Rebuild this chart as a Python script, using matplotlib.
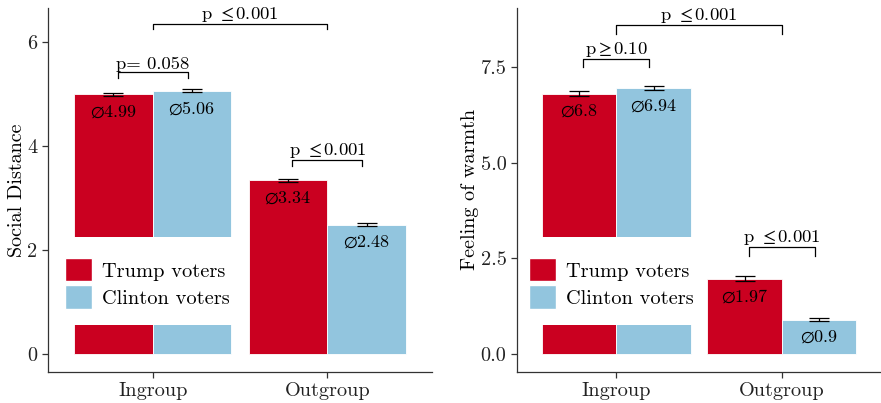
import matplotlib
matplotlib.use("Agg")
import matplotlib.pyplot as plt
from matplotlib.patches import Patch, Rectangle

plt.rcParams['font.family'] = ['cmr10', 'DejaVu Sans']
plt.rcParams['mathtext.fontset'] = 'stix'
plt.rcParams['axes.formatter.use_mathtext'] = True

groups = ['Ingroup', 'Outgroup']
voters = ['Trump voters', 'Clinton voters']
colors = ['#CA0020', '#92C5DE']

social_trump = [4.99, 3.34]
social_clinton = [5.06, 2.48]
social_err_trump = [0.03, 0.03]
social_err_clinton = [0.03, 0.03]

warmth_trump = [6.8, 1.97]
warmth_clinton = [6.94, 0.9]
warmth_err_trump = [0.07, 0.07]
warmth_err_clinton = [0.05, 0.04]

# brackets: (x start, x end, height, label)
social_brackets = [(0.8, 1.2, 5.42, 'p= 0.058'),
                   (1.0, 2.0, 6.35, r'p $\leq$0.001'),
                   (1.8, 2.2, 3.72, r'p $\leq$0.001')]
warmth_brackets = [(0.8, 1.2, 7.72, r'p$\geq$0.10'),
                   (1.0, 2.0, 8.59, r'p $\leq$0.001'),
                   (1.8, 2.2, 2.79, r'p $\leq$0.001')]

fig = plt.figure(figsize=(8.81, 4.03), dpi=100)
ax1 = fig.add_axes([48 / 881, 31 / 403, 384 / 881, 364 / 403])
ax2 = fig.add_axes([517 / 881, 31 / 403, 364 / 881, 364 / 403])


def draw_panel(ax, trump, clinton, err_t, err_c, brackets, tip, ylabel,
               ylim, yticks, yticklabels, legend_box, legend_x):
    x = [1, 2]
    w = 0.45
    xt = [i - w / 2 for i in x]
    xc = [i + w / 2 for i in x]
    ax.bar(xt, trump, width=w, color=colors[0], edgecolor='white', linewidth=0.6, zorder=2)
    ax.bar(xc, clinton, width=w, color=colors[1], edgecolor='white', linewidth=0.6, zorder=2)
    ax.errorbar(xt, trump, yerr=err_t, fmt='none', ecolor='black', elinewidth=0.9,
                capsize=7.5, capthick=0.9, zorder=3)
    ax.errorbar(xc, clinton, yerr=err_c, fmt='none', ecolor='black', elinewidth=0.9,
                capsize=7.5, capthick=0.9, zorder=3)
    for xs, vals in ((xt, trump), (xc, clinton)):
        for xi, v in zip(xs, vals):
            ax.annotate(r'$\emptyset$' + f'{v:g}', (xi, v), xytext=(0, -12.5),
                        textcoords='offset points', ha='center', va='center',
                        fontsize=13, zorder=4)
    for x1, x2, y, lab in brackets:
        ax.plot([x1, x1, x2, x2], [y - tip, y, y, y - tip], color='black', lw=0.9, zorder=4)
        ax.text((x1 + x2) / 2, y, lab, ha='center', va='bottom', fontsize=13.4, zorder=4)

    ax.add_patch(Rectangle((legend_box[0], 0.129), legend_box[1] - legend_box[0], 0.242,
                           transform=ax.transAxes, facecolor='white', edgecolor='none', zorder=5))
    handles = [Patch(facecolor=colors[0], edgecolor='white', label=voters[0]),
               Patch(facecolor=colors[1], edgecolor='white', label=voters[1])]
    leg = ax.legend(handles=handles, loc='upper left', bbox_to_anchor=(legend_x, 0.324),
                    frameon=False, fontsize=14.7, handlelength=1.3, handleheight=1.38,
                    handletextpad=0.52, labelspacing=0.19, borderpad=0.2, borderaxespad=0)
    leg.set_zorder(6)

    ax.set_xlim(0.4, 2.6)
    ax.set_ylim(*ylim)
    ax.set_xticks(x)
    ax.set_xticklabels(groups)
    ax.set_yticks(yticks)
    ax.set_yticklabels(yticklabels)
    ax.set_ylabel(ylabel, fontsize=14.5, color='black', labelpad=1)
    for s in ('top', 'right'):
        ax.spines[s].set_visible(False)
    for s in ('left', 'bottom'):
        ax.spines[s].set_color('#333333')
        ax.spines[s].set_linewidth(0.9)
    ax.tick_params(axis='both', colors='#333333', labelsize=14.6, length=4, width=0.9,
                   labelcolor='#222222')


draw_panel(ax1, social_trump, social_clinton, social_err_trump, social_err_clinton,
           social_brackets, 0.11, 'Social Distance', (-0.35, 6.65),
           [0, 2, 4, 6], ['0', '2', '4', '6'], (0.018, 0.5), 0.034)
draw_panel(ax2, warmth_trump, warmth_clinton, warmth_err_trump, warmth_err_clinton,
           warmth_brackets, 0.22, 'Feeling of warmth', (-0.47, 9.04),
           [0, 2.5, 5, 7.5], ['0.0', '2.5', '5.0', '7.5'], (0.014, 0.503), 0.022)

fig.savefig('out.png', dpi=100)
